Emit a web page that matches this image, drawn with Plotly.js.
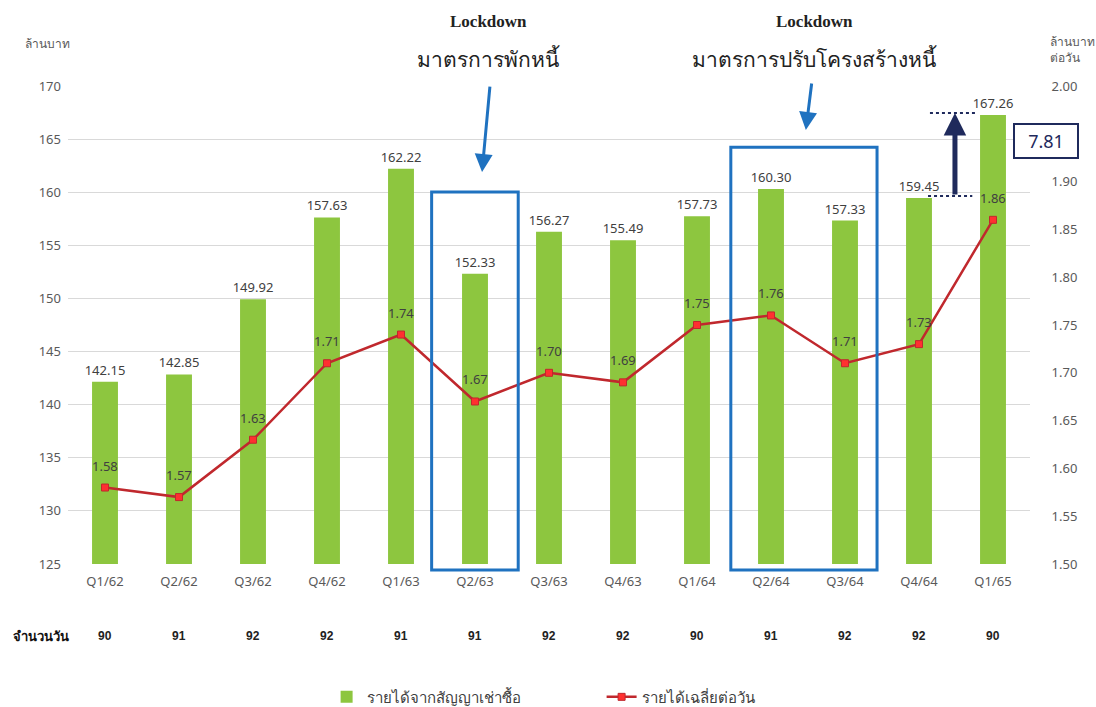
<!DOCTYPE html>
<html>
<head>
<meta charset="utf-8">
<script src="https://cdn.plot.ly/plotly-3.0.1.min.js"></script>
<style>html,body{margin:0;padding:0;background:#fff;}#chart{width:1096px;height:707px;}</style>
</head>
<body>
<div id="chart"></div>
<script>
const quarters = ['Q1/62','Q2/62','Q3/62','Q4/62','Q1/63','Q2/63','Q3/63','Q4/63','Q1/64','Q2/64','Q3/64','Q4/64','Q1/65'];
const revenue = [142.15,142.85,149.92,157.63,162.22,152.33,156.27,155.49,157.73,160.30,157.33,159.45,167.26];
const perDay = [1.58,1.57,1.63,1.71,1.74,1.67,1.70,1.69,1.75,1.76,1.71,1.73,1.86];
const days = [90,91,92,92,91,91,92,92,90,91,92,92,90];
const rightTicks = [1.50,1.55,1.60,1.65,1.70,1.75,1.80,1.85,1.90,2.00];
const barName = 'รายได้จากสัญญาเช่าซื้อ';
const lineName = 'รายได้เฉลี่ยต่อวัน';
const diffLabel = '7.81';

const FONT = '"Noto Sans", "DejaVu Sans", sans-serif';
const navy = '#1f2a5c';
const blue = '#1f72c0';

const traces = [
  {
    type: 'bar', x: quarters, y: revenue, name: barName,
    marker: {color: '#8dc63f'}, width: 0.35,
    text: revenue.map(v => v.toFixed(2)), textposition: 'outside', constraintext: 'none',
    textfont: {size: 13, color: '#404040', family: FONT}, cliponaxis: false
  },
  {
    type: 'scatter', mode: 'lines+markers', x: quarters, y: perDay, yaxis: 'y2', name: lineName,
    line: {color: '#c0282d', width: 2.5},
    marker: {symbol: 'square', size: 7, color: '#ff3030', line: {color: '#c0282d', width: 1}},
    cliponaxis: false
  }
];

function ann(x, y, text, font, extra) {
  return Object.assign({x: x, y: y, xref: 'paper', yref: 'paper', text: text, showarrow: false,
    xanchor: 'center', yanchor: 'middle', font: font}, extra || {});
}

const annotations = [];
perDay.forEach((v, i) => {
  annotations.push({x: quarters[i], xref: 'x', y: v, yref: 'y2', text: v.toFixed(2), showarrow: false,
    xanchor: 'center', yanchor: 'middle', yshift: 22,
    font: {size: 13, color: '#404040', family: FONT}});
});
days.forEach((d, i) => {
  annotations.push({x: quarters[i], xref: 'x', y: -0.1506, yref: 'paper', text: '<b>' + d + '</b>', showarrow: false,
    xanchor: 'center', yanchor: 'middle',
    font: {size: 12, color: '#222', family: '"Liberation Sans", Arial, sans-serif'}});
});
annotations.push(
  ann(-0.028, -0.1506, '<b>จำนวนวัน</b>', {size: 13, color: '#111', family: FONT}),
  ann(-0.0208, 1.088, 'ล้านบาท', {size: 12, color: '#595959', family: FONT}),
  ann(1.044, 1.094, 'ล้านบาท', {size: 12, color: '#595959', family: FONT}),
  ann(1.036, 1.059, 'ต่อวัน', {size: 12, color: '#595959', family: FONT}),
  ann(0.4366, 1.134, '<b>Lockdown</b>', {size: 17, color: '#222', family: '"Liberation Serif", serif'}),
  ann(0.4366, 1.056, 'มาตรการพักหนี้', {size: 21, color: '#222', family: FONT}),
  ann(0.7765, 1.134, '<b>Lockdown</b>', {size: 17, color: '#222', family: '"Liberation Serif", serif'}),
  ann(0.7765, 1.056, 'มาตรการปรับโครงสร้างหนี้', {size: 21, color: '#222', family: FONT}),
  {x: 0.4304, y: 0.82, xref: 'paper', yref: 'paper', text: '', showarrow: true, ax: 8, ay: -87, arrowhead: 2, arrowsize: 1.2, arrowwidth: 3, arrowcolor: blue},
  {x: 0.767, y: 0.908, xref: 'paper', yref: 'paper', text: '', showarrow: true, ax: 6, ay: -48, arrowhead: 2, arrowsize: 1.2, arrowwidth: 3, arrowcolor: blue},
  {x: 0.922, y: 0.9435, xref: 'paper', yref: 'paper', text: '', showarrow: true, ax: 0, ay: 83, arrowhead: 2, arrowsize: 0.9, arrowwidth: 5, arrowcolor: navy},
  ann(1.0166, 0.885, diffLabel, {size: 18, color: navy, family: FONT},
    {bordercolor: navy, borderwidth: 2, borderpad: 4, bgcolor: '#fff', width: 54})
);

const shapes = [
  {type: 'rect', xref: 'paper', yref: 'paper', x0: 0.378, x1: 0.468, y0: -0.0126, y1: 0.778, line: {color: blue, width: 3}},
  {type: 'rect', xref: 'paper', yref: 'paper', x0: 0.689, x1: 0.841, y0: -0.0126, y1: 0.872, line: {color: blue, width: 3}},
  {type: 'line', xref: 'paper', yref: 'paper', x0: 0.896, x1: 0.943, y0: 0.9435, y1: 0.9435, line: {color: navy, width: 2, dash: 'dot'}},
  {type: 'line', xref: 'paper', yref: 'paper', x0: 0.894, x1: 0.940, y0: 0.770, y1: 0.770, line: {color: navy, width: 2, dash: 'dot'}}
];

const layout = {
  width: 1096, height: 707,
  margin: {l: 68, r: 66, t: 86, b: 143},
  paper_bgcolor: '#fff', plot_bgcolor: '#fff',
  font: {family: FONT, color: '#595959', size: 12},
  showlegend: true,
  legend: {orientation: 'h', xref: 'container', yref: 'container', x: 0.298, xanchor: 'left', y: 0.014, yanchor: 'middle',
    entrywidth: 230, font: {size: 15, color: '#404040'}, traceorder: 'normal'},
  xaxis: {type: 'category', tickfont: {size: 13, color: '#595959'}, showgrid: false, showline: false, ticks: '', range: [-0.5, 12.5], automargin: false, ticklabelstandoff: 8},
  yaxis: {range: [125, 170], dtick: 5, gridcolor: '#d9d9d9', zeroline: false, tickfont: {size: 13, color: '#595959'}, ticks: '', showline: false, automargin: false, ticklabelstandoff: 6},
  yaxis2: {range: [1.5, 2.0], tickvals: rightTicks, tickformat: '.2f', overlaying: 'y', side: 'right', showgrid: false, zeroline: false,
    tickfont: {size: 13, color: '#595959'}, ticks: 'outside', ticklen: 18, tickcolor: 'rgba(0,0,0,0)', automargin: false},
  annotations: annotations,
  shapes: shapes
};

Plotly.newPlot('chart', traces, layout, {displayModeBar: false, staticPlot: true});
</script>
</body>
</html>
